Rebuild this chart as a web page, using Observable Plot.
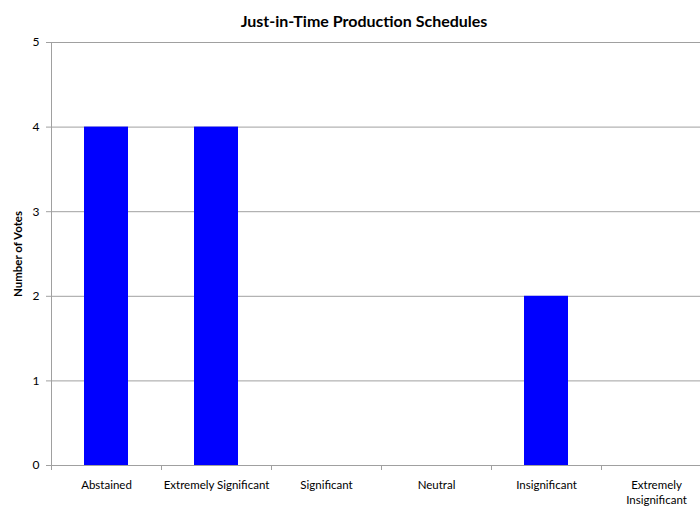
<!DOCTYPE html>
<html><head><meta charset="utf-8">
<script src="https://cdn.jsdelivr.net/npm/d3@7"></script>
<script src="https://cdn.jsdelivr.net/npm/@observablehq/plot@0.6"></script>
<style>
html,body{margin:0;padding:0;background:#fff;overflow:hidden;}
body{width:700px;height:507px;font-family:Lato,"Open Sans",sans-serif;}
#title{width:700px;height:28px;line-height:41px;box-sizing:border-box;padding-left:28px;text-align:center;font-weight:bold;font-size:16px;color:#000;white-space:nowrap;overflow:visible;}
#chart{width:700px;height:479px;overflow:hidden;}
#chart svg{display:block;}
</style></head><body>
<div id="title"></div>
<div id="chart"></div>
<script>
const chartTitle = "Just-in-Time Production Schedules";
const yLabel = "Number of Votes";
const categories = ["Abstained", "Extremely Significant", "Significant", "Neutral", "Insignificant", "Extremely Insignificant"];
const votes = [4, 4, 0, 0, 2, 0];
const yTicks = [0, 1, 2, 3, 4, 5];

document.getElementById("title").textContent = chartTitle;
const data = categories.map((c, i) => ({category: c, votes: votes[i]}));

const chart = Plot.plot({
  width: 700, height: 479,
  marginTop: 14, marginBottom: 42, marginLeft: 51, marginRight: -11,
  style: {fontFamily: "Lato, 'Open Sans', sans-serif", fontSize: "11.5px", color: "#000", background: "#fff"},
  x: {domain: categories, padding: 0},
  y: {domain: [0, 5]},
  marks: [
    Plot.ruleY(yTicks.slice(1), {stroke: "#a0a0a0"}),
    Plot.barY(data, {x: "category", y: "votes", fill: "#0000ff", insetLeft: 33, insetRight: 33}),
    Plot.ruleY([0], {stroke: "#a0a0a0"}),
    Plot.ruleX(categories, {x: d => d, dx: -55, y1: 0, y2: 0, insetBottom: -5, stroke: "#a0a0a0"}),
    Plot.ruleX([categories[0]], {x: d => d, dx: -55, y1: 5, y2: 0, insetBottom: -5, stroke: "#a0a0a0"}),
    Plot.axisY({ticks: yTicks, tickFormat: "d", tickSize: 5, tickPadding: 7, stroke: "#a0a0a0", label: null, fontSize: 12}),
    Plot.axisX({tickSize: 0, tickPadding: 13, label: null, lineHeight: 1.3,
      tickFormat: d => d === "Extremely Insignificant" ? "Extremely\nInsignificant" : d}),
    Plot.text([yLabel], {frameAnchor: "left", rotate: -90, dx: -33, textAnchor: "middle", fontWeight: "bold", fontSize: 11.5})
  ]
});
document.getElementById("chart").appendChild(chart);
</script>
</body></html>
